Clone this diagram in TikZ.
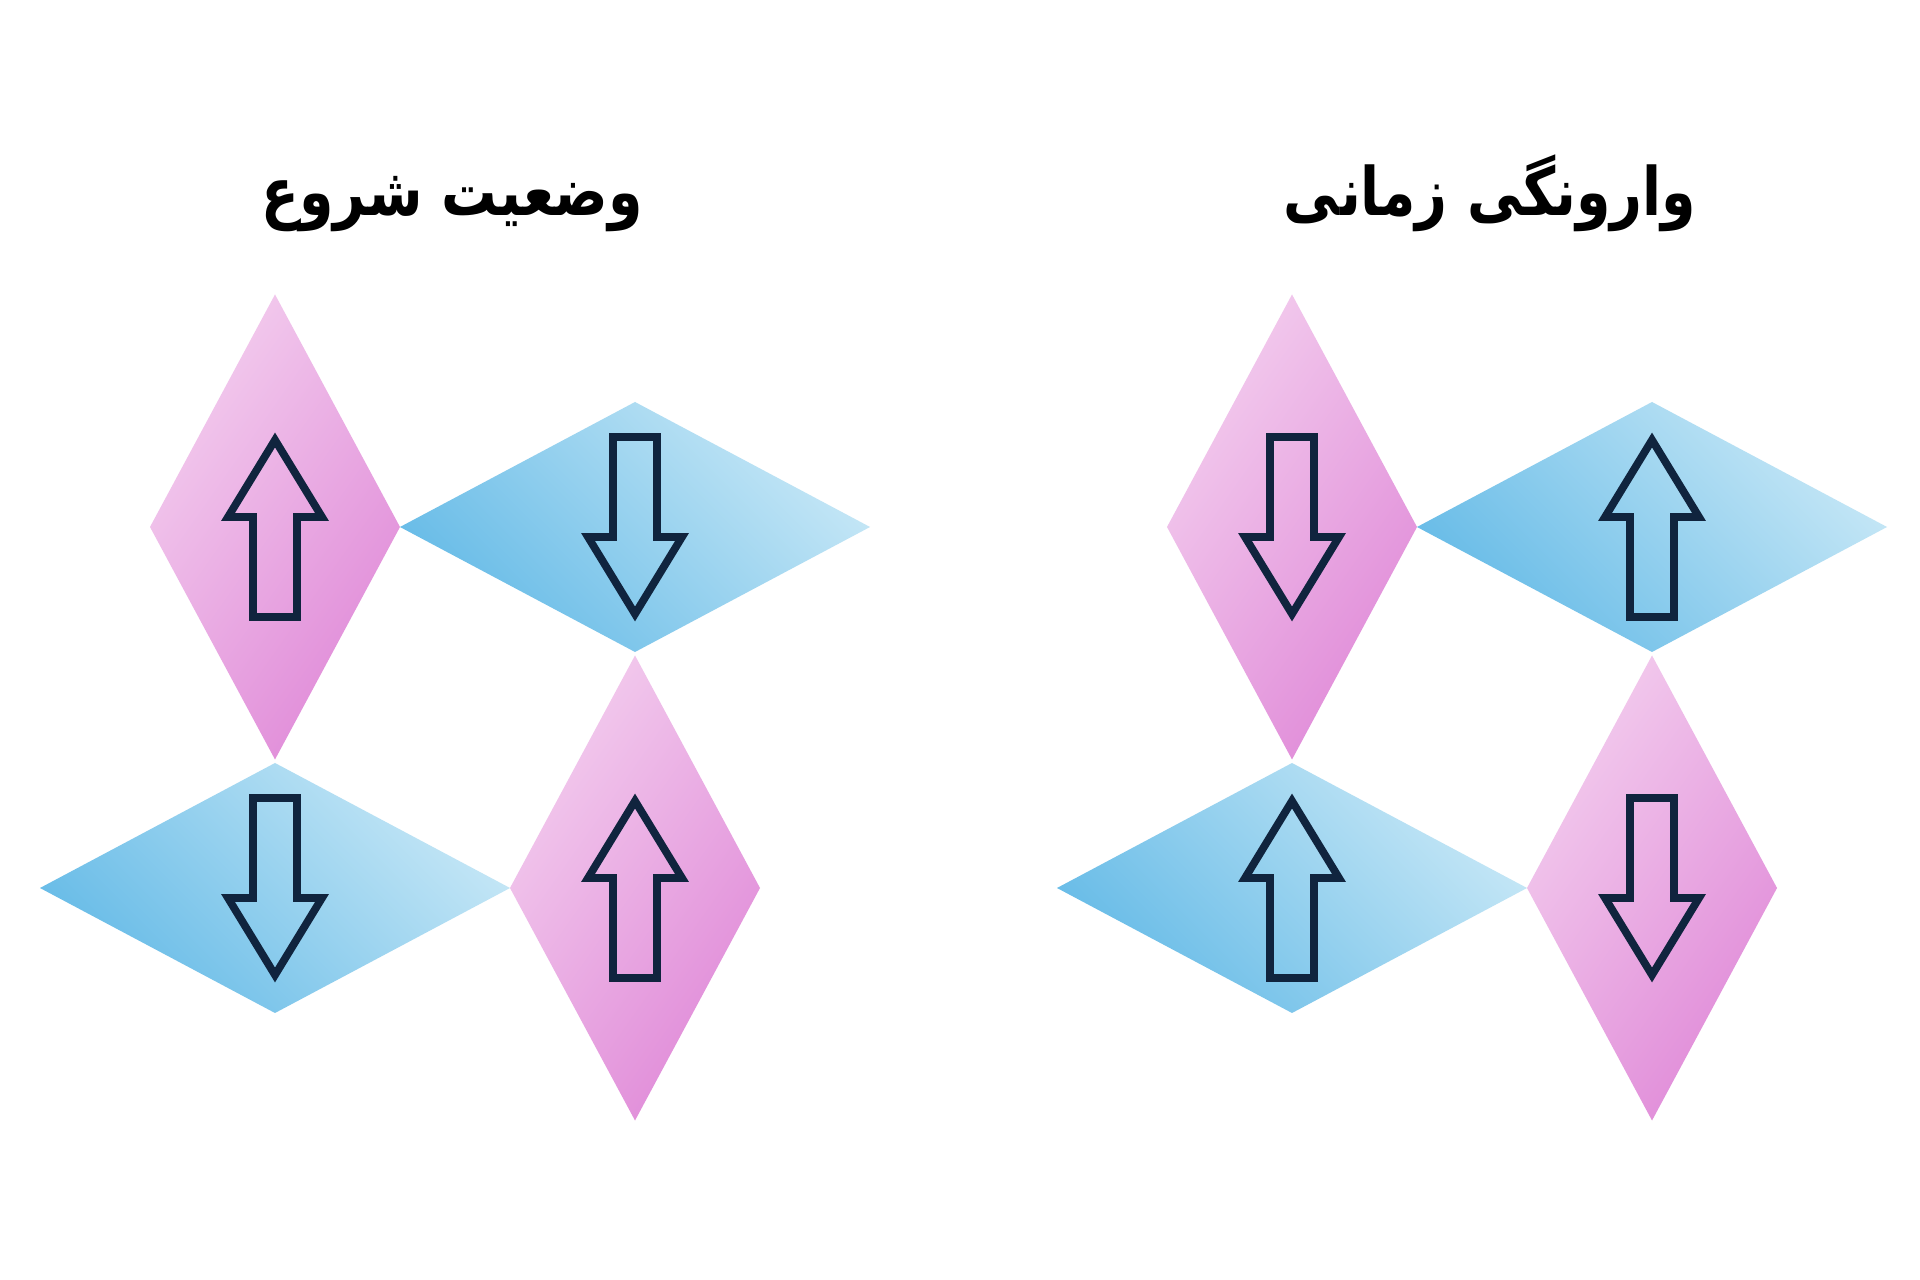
\documentclass[tikz,border=0pt]{standalone}
\usepackage{fontspec}
\usetikzlibrary{shapes.geometric}
\TeXXeTstate=1
\newfontfamily\arabicfont[Script=Arabic,FakeStretch=0.83]{DejaVu Sans}
\definecolor{pinklight}{HTML}{F3CDEE}
\definecolor{pinkdark}{HTML}{E08AD8}
\definecolor{bluelight}{HTML}{C6E7F6}
\definecolor{bluedark}{HTML}{66BBE7}
\definecolor{spinnavy}{HTML}{10243E}
\tikzset{
  gem/.style={diamond, inner sep=0pt, outer sep=0pt, draw=none},
  tallgem/.style={gem, minimum width=2.5cm, minimum height=4.65cm,
    top color=pinklight, bottom color=pinkdark, shading angle=55},
  widegem/.style={gem, minimum width=4.7cm, minimum height=2.5cm,
    top color=bluelight, bottom color=bluedark, shading angle=-45},
  spinline/.style={draw=spinnavy, line width=2.2pt, line join=miter},
  title/.style={font=\arabicfont\bfseries\fontsize{19}{22}\selectfont, anchor=base}
}
% #1 = diamond node, #2 = 1 for up, -1 for down
\newcommand{\spinarrow}[2]{%
  \draw[spinline, shift={(#1.center)}, yscale=#2] (-0.22,-0.90) -- (-0.22,0.10) -- (-0.47,0.10) -- (0,0.87)
    -- (0.47,0.10) -- (0.22,0.10) -- (0.22,-0.90) -- cycle;}

\begin{document}
\begin{tikzpicture}
          \fill[white] (0,0) rectangle (19.2,-12.8);
          \useasboundingbox (0,0) rectangle (19.2,-12.8);

          \node[title] (startT) at (4.52,-2.16) {\beginR وضعیت شروع\endR};
          \node[title] (flipT) at (14.90,-2.16) {\beginR وارونگی زمانی\endR};

          % start state
          \node[tallgem] (sP1) at (2.75,-5.27) {};
          \node[widegem] (sB1) at (6.35,-5.27) {};
          \node[widegem] (sB2) at (2.75,-8.88) {};
          \node[tallgem] (sP2) at (6.35,-8.88) {};

          \spinarrow{sP1}{1}
          \spinarrow{sB1}{-1}
          \spinarrow{sB2}{-1}
          \spinarrow{sP2}{1}

          % time reversal
          \node[tallgem] (tP1) at (12.92,-5.27) {};
          \node[widegem] (tB1) at (16.52,-5.27) {};
          \node[widegem] (tB2) at (12.92,-8.88) {};
          \node[tallgem] (tP2) at (16.52,-8.88) {};

          \spinarrow{tP1}{-1}
          \spinarrow{tB1}{1}
          \spinarrow{tB2}{1}
          \spinarrow{tP2}{-1}
        \end{tikzpicture}
\end{document}
